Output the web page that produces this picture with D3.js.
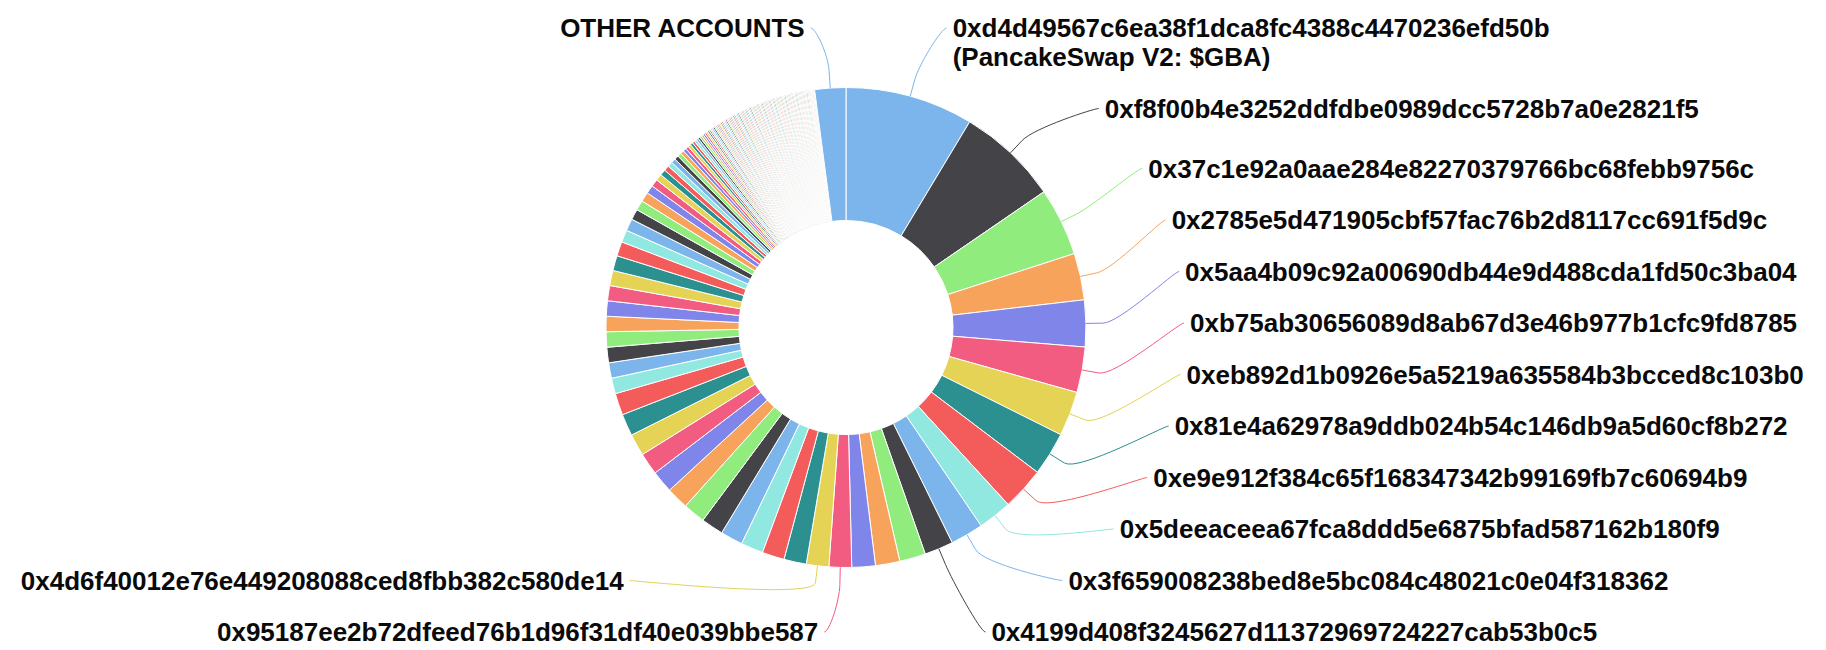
<!DOCTYPE html>
<html lang="en">
<head>
<meta charset="UTF-8">
<title>Token Holders Chart</title>
<script src="https://d3js.org/d3.v7.min.js"></script>
<style>
  body { margin: 0; background: #fff; }
  .label { font-family: 'Liberation Sans', Arial, sans-serif; font-size: 26px; font-weight: bold; fill: #0a0a0a; }
  .slice { stroke: #fff; stroke-width: 1; }
  .connector { fill: none; stroke-width: 1; }
</style>
</head>
<body>
<div id="chart"></div>
<script>
// labels for the holders whose label is shown, in holder order
const holderLabels = [
  "0xd4d49567c6ea38f1dca8fc4388c4470236efd50b\n(PancakeSwap V2: $GBA)",
  "0xf8f00b4e3252ddfdbe0989dcc5728b7a0e2821f5",
  "0x37c1e92a0aae284e82270379766bc68febb9756c",
  "0x2785e5d471905cbf57fac76b2d8117cc691f5d9c",
  "0x5aa4b09c92a00690db44e9d488cda1fd50c3ba04",
  "0xb75ab30656089d8ab67d3e46b977b1cfc9fd8785",
  "0xeb892d1b0926e5a5219a635584b3bcced8c103b0",
  "0x81e4a62978a9ddb024b54c146db9a5d60cf8b272",
  "0xe9e912f384c65f168347342b99169fb7c60694b9",
  "0x5deeaceea67fca8ddd5e6875bfad587162b180f9",
  "0x3f659008238bed8e5bc084c48021c0e04f318362",
  "0x4199d408f3245627d11372969724227cab53b0c5",
  null, null, null,
  "0x95187ee2b72dfeed76b1d96f31df40e039bbe587",
  "0x4d6f40012e76e449208088ced8fbb382c580de14"
];

// share of supply (%) per holder, largest first
const holderShares = [
  8.61, 6.81, 4.58, 3.14, 3.14, 3.06, 3.00, 2.94, 2.89, 2.28, 2.22, 1.94, 1.75, 1.64, 1.58,
  1.52, 1.51, 1.51, 1.50, 1.50, 1.50, 1.50, 1.49, 1.49, 1.49, 1.48, 1.48, 1.48, 1.47,
  1.05, 1.04, 1.04, 1.03, 1.03, 1.03, 1.02, 1.02, 1.01,
  0.97, 0.83, 0.81, 0.72, 0.67, 0.64,
  0.56, 0.50, 0.44, 0.40, 0.36, 0.33, 0.31, 0.28, 0.26, 0.24,
  0.22, 0.21, 0.19, 0.18, 0.17, 0.16, 0.15, 0.14, 0.14, 0.13,
  0.128, 0.122, 0.117, 0.114, 0.111, 0.108, 0.106, 0.103, 0.100, 0.097,
  0.094, 0.094, 0.094, 0.094, 0.094, 0.094, 0.094, 0.094, 0.094, 0.094,
  0.092, 0.092, 0.092, 0.092, 0.092, 0.092, 0.092, 0.092, 0.092, 0.092,
  0.086, 0.086, 0.086, 0.086, 0.086, 0.086, 0.086, 0.086, 0.086, 0.086,
  0.083, 0.083, 0.083, 0.083, 0.083, 0.083, 0.083, 0.083, 0.083, 0.083,
  0.081, 0.081, 0.081, 0.081, 0.081, 0.081, 0.081, 0.081, 0.081, 0.081,
  0.078, 0.078, 0.078, 0.078, 0.078, 0.078, 0.078, 0.078, 0.078, 0.078,
  0.075, 0.075, 0.075, 0.075, 0.075, 0.075, 0.075, 0.075, 0.075, 0.075,
  0.072, 0.072, 0.072, 0.072, 0.072, 0.072, 0.072, 0.072, 0.072, 0.072,
  0.056, 0.056, 0.056, 0.056, 0.056, 0.056
];

const otherLabel = "OTHER ACCOUNTS";
const otherShare = 2.09;

const colors = ["#7cb5ec", "#434348", "#90ed7d", "#f7a35c", "#8085e9",
                "#f15c80", "#e4d354", "#2b908f", "#f45b5b", "#91e8e1"];

const width = 1826, height = 650;
const cx = 846, cy = 327.5, outerR = 240, innerR = 107;
const labelR = 324, topY = 28, bottomY = 632, spacing = 51.5, lineH = 29;

const data = holderShares.map((v, i) => ({ label: holderLabels[i] || null, value: v }));
data.push({ label: otherLabel, value: otherShare });
data.forEach((d, i) => d.color = colors[i % colors.length]);

const svg = d3.select("#chart").append("svg")
    .attr("width", width)
    .attr("height", height);

const pie = d3.pie().sort(null).value(d => d.value);
const arc = d3.arc().innerRadius(innerR).outerRadius(outerR);
const arcs = pie(data);

svg.append("g")
    .attr("transform", "translate(" + cx + "," + cy + ")")
    .selectAll("path")
    .data(arcs)
    .enter()
    .append("path")
    .attr("class", "slice")
    .attr("fill", d => d.data.color)
    .attr("d", arc);

const labelled = arcs.filter(a => a.data.label).map(a => {
    const mid = (a.startAngle + a.endAngle) / 2;
    return {
        mid: mid,
        lines: a.data.label.split("\n"),
        left: mid > Math.PI,
        natY: cy - labelR * Math.cos(mid),
        color: a.data.color
    };
});

function distribute(list) {
    list.sort((a, b) => a.natY - b.natY);
    list.forEach((d, i) => {
        const prev = list[i - 1];
        const minY = prev ? prev.y + spacing + (prev.lines.length - 1) * lineH : topY;
        d.y = Math.max(d.natY, topY, minY);
    });
    for (let i = list.length - 1; i >= 0; i--) {
        const d = list[i], next = list[i + 1];
        const extra = (d.lines.length - 1) * lineH;
        const maxY = next ? next.y - spacing - extra : bottomY - extra;
        d.y = Math.min(d.y, maxY);
    }
    list.forEach(d => {
        const atBound = d.y <= topY + 0.5 || d.y >= bottomY - 0.5;
        const useY = atBound ? d.natY : d.y;
        const dx = Math.sqrt(Math.max(0, labelR * labelR - (useY - cy) * (useY - cy)));
        const sign = d.left ? -1 : 1;
        d.ax = cx + sign * (dx + 14);
        d.tx = d.ax + sign * 6;
    });
}

distribute(labelled.filter(d => !d.left));
distribute(labelled.filter(d => d.left));

function polar(r, a) {
    return [cx + r * Math.sin(a), cy - r * Math.cos(a)];
}

svg.append("g")
    .selectAll("path")
    .data(labelled)
    .enter()
    .append("path")
    .attr("class", "connector")
    .attr("stroke", d => d.color)
    .attr("d", d => {
        const touch = polar(outerR, d.mid);
        const brk = polar(outerR + 17, d.mid);
        const ctrl = [2 * brk[0] - touch[0], 2 * brk[1] - touch[1]];
        const c1 = d.ax + (d.left ? 5 : -5);
        return "M" + d.ax + "," + d.y +
            "C" + c1 + "," + d.y + " " + ctrl[0] + "," + ctrl[1] + " " + brk[0] + "," + brk[1] +
            "L" + touch[0] + "," + touch[1];
    });

const texts = svg.append("g")
    .selectAll("text")
    .data(labelled)
    .enter()
    .append("text")
    .attr("class", "label")
    .attr("text-anchor", d => d.left ? "end" : "start");

texts.selectAll("tspan")
    .data(d => d.lines.map((t, i) => ({ t: t, i: i, d: d })))
    .enter()
    .append("tspan")
    .attr("x", l => l.d.tx)
    .attr("y", l => l.d.y + l.i * lineH)
    .attr("dy", "0.35em")
    .text(l => l.t);
</script>
</body>
</html>
